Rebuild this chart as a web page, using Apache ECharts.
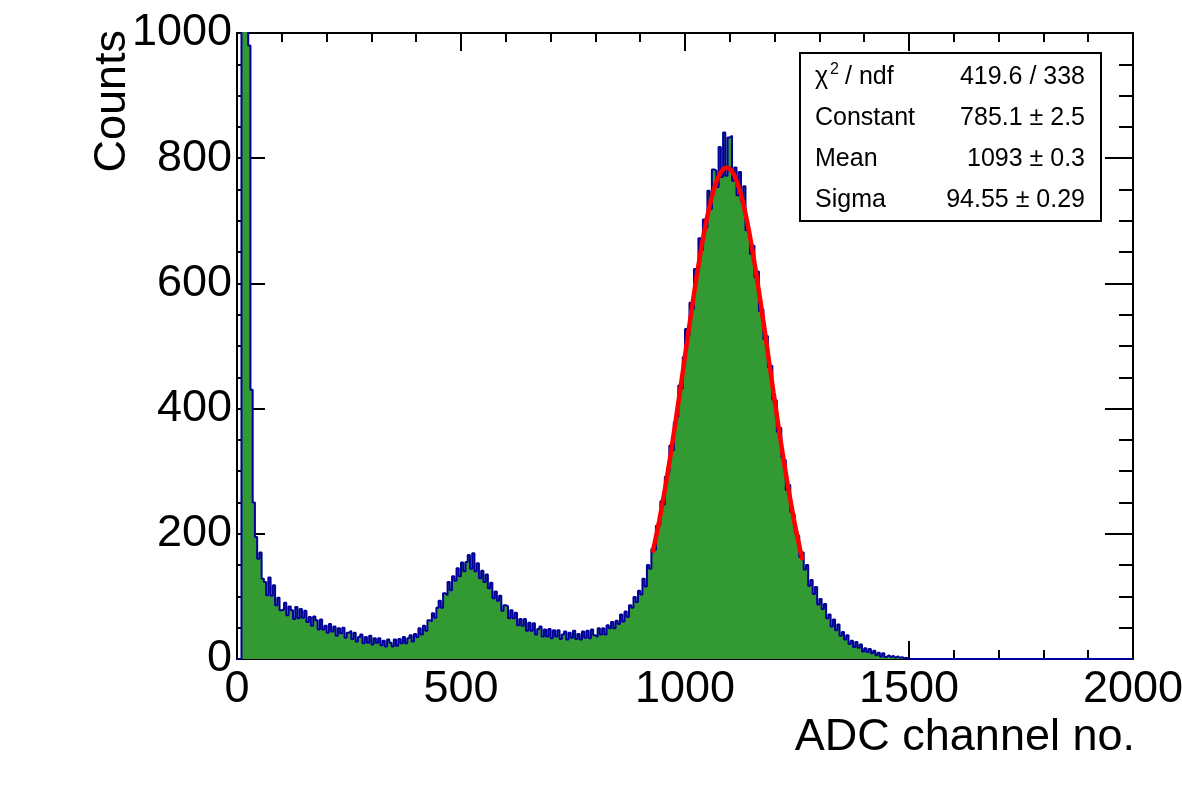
<!DOCTYPE html>
<html>
<head>
<meta charset="utf-8">
<script src="https://cdn.jsdelivr.net/npm/echarts@6/dist/echarts.min.js"></script>
<style>
  html, body { margin: 0; padding: 0; background: #fff; }
  #chart { width: 1182px; height: 805px; }
</style>
</head>
<body>
<div id="chart"></div>
<script>
// ADC spectrum, 5-channel bins starting at channel 0
const binWidth = 5
const counts = [
  0, 0, 2400, 3000, 2200, 980, 430, 250, 195, 160,
  170, 128, 123, 102, 130, 101, 118, 86, 98, 78,
  79, 90, 70, 84, 78, 64, 83, 65, 80, 66,
  77, 59, 67, 53, 68, 62, 47, 63, 47, 53,
  42, 56, 44, 52, 37, 49, 41, 50, 34, 42,
  45, 32, 42, 28, 35, 39, 25, 35, 26, 37,
  23, 33, 26, 33, 22, 29, 20, 31, 26, 20,
  31, 21, 32, 25, 35, 25, 33, 38, 28, 40,
  35, 49, 39, 53, 45, 62, 60, 73, 66, 82,
  93, 82, 105, 102, 123, 110, 132, 125, 145, 132,
  154, 140, 155, 166, 144, 169, 140, 153, 129, 141,
  123, 135, 113, 122, 97, 108, 93, 101, 77, 86,
  84, 65, 78, 65, 74, 54, 64, 53, 64, 45,
  58, 45, 57, 39, 48, 52, 36, 47, 36, 48,
  33, 46, 36, 46, 32, 39, 44, 31, 42, 34,
  45, 32, 40, 31, 44, 34, 45, 33, 47, 38,
  35, 49, 39, 49, 39, 54, 49, 59, 49, 61,
  56, 71, 60, 76, 67, 86, 82, 99, 91, 109,
  103, 128, 116, 150, 144, 176, 174, 213, 215, 252,
  247, 291, 298, 341, 333, 378, 387, 437, 432, 482,
  527, 517, 569, 559, 623, 619, 672, 653, 702, 689,
  748, 719, 782, 780, 754, 818, 770, 841, 772, 833,
  836, 764, 785, 741, 778, 731, 755, 685, 684, 647,
  660, 610, 619, 556, 559, 511, 516, 466, 469, 414,
  413, 363, 369, 322, 318, 270, 278, 235, 231, 202,
  197, 163, 170, 143, 150, 117, 126, 104, 115, 87,
  96, 80, 88, 65, 71, 52, 63, 46, 55, 37,
  43, 31, 38, 24, 29, 19, 27, 18, 23, 12,
  17, 11, 16, 9, 13, 6, 10, 4, 9, 3,
  6, 3, 5, 2, 4, 2, 3, 1, 2, 0
]
const xRange = [0, 2000]
const yRange = [0, 1000]

// gaussian fit curve as drawn (red), sampled every 5 channels from 927.5
const fitStart = 927.5
const fitStep = 5
const fitY = [
  170, 186, 203, 221, 240, 260, 281, 303, 325, 349,
  372, 397, 421, 446, 471, 497, 522, 546, 571, 595,
  618, 640, 661, 681, 699, 716, 732, 745, 757, 767,
  775, 780, 784, 785, 784, 781, 776, 769, 759, 748,
  735, 720, 703, 685, 665, 644, 622, 599, 576, 551,
  527, 502, 476, 451, 426, 402, 377, 353, 330, 308,
  286, 265, 245, 225, 207, 190, 173, 158
]

// stats box rows
const statNames = ['Constant', 'Mean', 'Sigma']
const statValues = ['419.6 / 338', '785.1 \u00b1 2.5', '1093 \u00b1 0.3', '94.55 \u00b1 0.29']

const FONT = '"Liberation Sans", Arial, sans-serif'

const histData = counts.map((c, i) => [i * binWidth, c])
histData.push([counts.length * binWidth, 0])
histData.push([xRange[1], 0])
const fitData = fitY.map((v, i) => [fitStart + i * fitStep, v])

const chart = echarts.init(document.getElementById('chart'))

const plainNumber = v => String(v)

const xAxisBase = {
  type: 'value',
  min: xRange[0],
  max: xRange[1],
  interval: 500,
  axisLine: { show: true, onZero: false, lineStyle: { color: '#000', width: 2 } },
  axisTick: { show: true, inside: true, length: 18, lineStyle: { color: '#000', width: 2 } },
  minorTick: { show: true, splitNumber: 5, length: 9, lineStyle: { color: '#000', width: 2 } },
  splitLine: { show: false }
}
const yAxisBase = {
  type: 'value',
  min: yRange[0],
  max: yRange[1],
  interval: 200,
  axisLine: { show: true, onZero: false, lineStyle: { color: '#000', width: 2 } },
  axisTick: { show: true, inside: true, length: 28, lineStyle: { color: '#000', width: 2 } },
  minorTick: { show: true, splitNumber: 4, length: 14, lineStyle: { color: '#000', width: 2 } },
  splitLine: { show: false }
}

const statRowsY = [77, 118, 159, 200]
const statGraphics = [
  {
    type: 'rect',
    shape: { x: 800, y: 53, width: 301, height: 168 },
    style: { fill: '#fff', stroke: '#000', lineWidth: 2 },
    z: 100
  },
  { type: 'text', x: 815, y: statRowsY[0], z: 101,
    style: { text: '\u03c7', font: '25px ' + FONT, fill: '#000', verticalAlign: 'middle' } },
  { type: 'text', x: 830, y: 70, z: 101,
    style: { text: '2', font: '16px ' + FONT, fill: '#000', verticalAlign: 'middle' } },
  { type: 'text', x: 845, y: statRowsY[0], z: 101,
    style: { text: '/ ndf', font: '25px ' + FONT, fill: '#000', verticalAlign: 'middle' } }
]
statNames.forEach((name, i) => {
  statGraphics.push({ type: 'text', x: 815, y: statRowsY[i + 1], z: 101,
    style: { text: name, font: '25px ' + FONT, fill: '#000', verticalAlign: 'middle' } })
})
statValues.forEach((val, i) => {
  statGraphics.push({ type: 'text', x: 1085, y: statRowsY[i], z: 101,
    style: { text: val, font: '25px ' + FONT, fill: '#000', align: 'right', verticalAlign: 'middle' } })
})

const option = {
  animation: false,
  backgroundColor: '#fff',
  grid: { left: 237, top: 33, width: 896, height: 626, outerBoundsMode: 'none', containLabel: false },
  xAxis: [
    Object.assign({}, xAxisBase, {
      position: 'bottom',
      axisLabel: { show: true, color: '#000', fontSize: 45, fontFamily: FONT, margin: 8,
        hideOverlap: false, formatter: plainNumber }
    }),
    Object.assign({}, xAxisBase, { position: 'top', axisLabel: { show: false } })
  ],
  yAxis: [
    Object.assign({}, yAxisBase, {
      position: 'left',
      axisLabel: { show: true, color: '#000', fontSize: 45, fontFamily: FONT, margin: 5,
        hideOverlap: false, formatter: plainNumber }
    }),
    Object.assign({}, yAxisBase, { position: 'right', axisLabel: { show: false } })
  ],
  graphic: [
    { type: 'text', x: 1135, y: 738, z: 50,
      style: { text: 'ADC channel no.', font: '45px ' + FONT, fill: '#000', align: 'right', verticalAlign: 'middle' } },
    { type: 'text', x: 113, y: 30, rotation: Math.PI / 2, z: 50,
      style: { text: 'Counts', font: '45px ' + FONT, fill: '#000', align: 'right', verticalAlign: 'middle' } }
  ].concat(statGraphics),
  series: [
    {
      name: 'hist',
      type: 'line',
      data: histData,
      step: 'end',
      symbol: 'none',
      clip: true,
      lineStyle: { color: '#000099', width: 2 },
      areaStyle: { color: '#339933', opacity: 1 },
      z: 2
    },
    {
      name: 'fit',
      type: 'line',
      data: fitData,
      symbol: 'none',
      smooth: false,
      clip: true,
      lineStyle: { color: '#ff0000', width: 4.5 },
      z: 3
    }
  ]
}

chart.setOption(option)
</script>
</body>
</html>
